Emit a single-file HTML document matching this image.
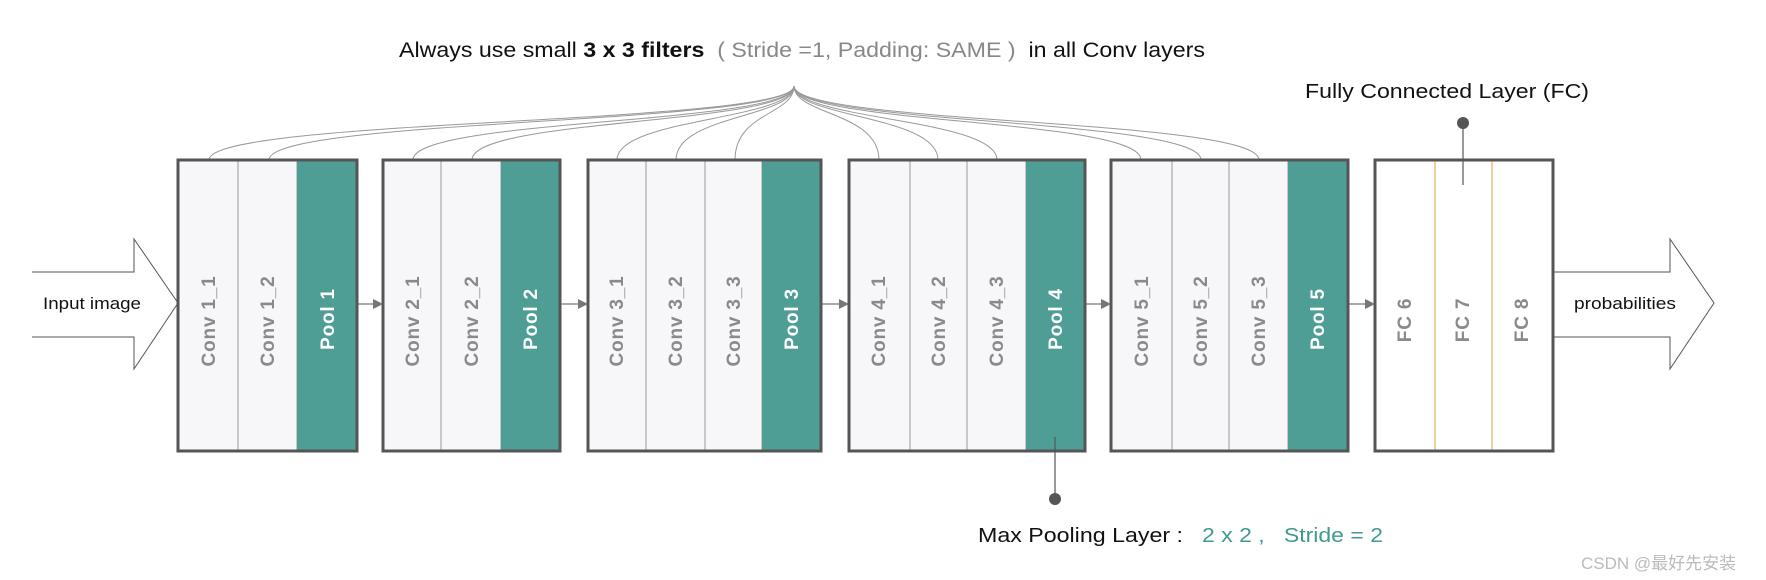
<!DOCTYPE html>
<html><head><meta charset="utf-8"><style>
html,body{margin:0;padding:0;background:#fff;}
svg{display:block;}
.t{font-family:"Liberation Sans","Noto Sans CJK SC",sans-serif;}
.lbl{font-family:"Liberation Sans",sans-serif;font-weight:bold;font-size:19px;letter-spacing:0.8px;fill:#8a8a8a;}
.pl{fill:#fff;}
</style></head><body>
<svg width="1766" height="580" viewBox="0 0 1766 580" xmlns="http://www.w3.org/2000/svg">
<defs><marker id="ah" markerWidth="10" markerHeight="10" refX="9" refY="5" orient="auto" markerUnits="userSpaceOnUse"><path d="M0,0 L10,5 L0,10 z" fill="#777"/></marker></defs>
<text class="t" x="399" y="57" font-size="21" fill="#111" textLength="806" lengthAdjust="spacingAndGlyphs">Always use small <tspan font-weight="bold">3 x 3 filters</tspan>&#160;&#160;<tspan fill="#888">( Stride =1, Padding: SAME )</tspan>&#160;&#160;in all Conv layers</text>
<g fill="none" stroke="#999" stroke-width="1">
<path d="M794,86 C794,125 209,118 209,160"/>
<path d="M794,86 C794,125 269,118 269,160"/>
<path d="M794,86 C794,125 413,118 413,160"/>
<path d="M794,86 C794,125 472,118 472,160"/>
<path d="M794,86 C794,120 617,118 617,160"/>
<path d="M794,86 C794,118 676,115 676,160"/>
<path d="M794,86 C794,115 735,112 735,160"/>
<path d="M794,86 C794,115 879,112 879,160"/>
<path d="M794,86 C794,118 938,115 938,160"/>
<path d="M794,86 C794,120 997,118 997,160"/>
<path d="M794,86 C794,125 1141,118 1141,160"/>
<path d="M794,86 C794,125 1201,118 1201,160"/>
<path d="M794,86 C794,125 1259,118 1259,160"/>
</g>
<path d="M32,272 L134,272 L134,239 L178,303 L134,369 L134,337 L32,337" fill="#fff" stroke="#555" stroke-width="1"/>
<text class="t" x="43" y="309" font-size="17" fill="#111" textLength="98" lengthAdjust="spacingAndGlyphs">Input image</text>
<path d="M1553,272 L1670,272 L1670,239 L1714,303 L1670,369 L1670,337 L1553,337" fill="#fff" stroke="#555" stroke-width="1"/>
<text class="t" x="1574" y="309" font-size="17" fill="#111" textLength="102" lengthAdjust="spacingAndGlyphs">probabilities</text>
<g stroke="#999" stroke-width="1">
<rect x="178" y="160" width="60" height="291" fill="#f7f7f9"/><rect x="238" y="160" width="59" height="291" fill="#f7f7f9"/><rect x="297" y="160" width="60" height="291" fill="#4e9e96" stroke="none"/>
<rect x="383" y="160" width="58" height="291" fill="#f7f7f9"/><rect x="441" y="160" width="60" height="291" fill="#f7f7f9"/><rect x="501" y="160" width="59" height="291" fill="#4e9e96" stroke="none"/>
<rect x="588" y="160" width="58" height="291" fill="#f7f7f9"/><rect x="646" y="160" width="59" height="291" fill="#f7f7f9"/><rect x="705" y="160" width="57" height="291" fill="#f7f7f9"/><rect x="762" y="160" width="59" height="291" fill="#4e9e96" stroke="none"/>
<rect x="849" y="160" width="61" height="291" fill="#f7f7f9"/><rect x="910" y="160" width="57" height="291" fill="#f7f7f9"/><rect x="967" y="160" width="59" height="291" fill="#f7f7f9"/><rect x="1026" y="160" width="59" height="291" fill="#4e9e96" stroke="none"/>
<rect x="1111" y="160" width="61" height="291" fill="#f7f7f9"/><rect x="1172" y="160" width="57" height="291" fill="#f7f7f9"/><rect x="1229" y="160" width="59" height="291" fill="#f7f7f9"/><rect x="1288" y="160" width="60" height="291" fill="#4e9e96" stroke="none"/>
<rect x="1375" y="160" width="178" height="291" fill="#fff" stroke="none"/>
</g>
<g stroke="#d9a640" stroke-width="1"><line x1="1435" y1="160" x2="1435" y2="451"/><line x1="1492" y1="160" x2="1492" y2="451"/></g>
<g fill="none" stroke="#555" stroke-width="3">
<rect x="178" y="160" width="179" height="291"/><rect x="383" y="160" width="177" height="291"/><rect x="588" y="160" width="233" height="291"/><rect x="849" y="160" width="236" height="291"/><rect x="1111" y="160" width="237" height="291"/><rect x="1375" y="160" width="178" height="291"/>
</g>
<g stroke="#777" stroke-width="1.2" marker-end="url(#ah)">
<line x1="358" y1="304" x2="382" y2="304"/><line x1="561" y1="304" x2="587" y2="304"/><line x1="822" y1="304" x2="848" y2="304"/><line x1="1086" y1="304" x2="1110" y2="304"/><line x1="1349" y1="304" x2="1374" y2="304"/>
</g>
<g text-anchor="middle">
<text class="lbl" transform="translate(215,321) rotate(-90)">Conv 1_1</text>
<text class="lbl" transform="translate(274,321) rotate(-90)">Conv 1_2</text>
<text class="lbl pl" transform="translate(334,319) rotate(-90)">Pool 1</text>
<text class="lbl" transform="translate(419,321) rotate(-90)">Conv 2_1</text>
<text class="lbl" transform="translate(478,321) rotate(-90)">Conv 2_2</text>
<text class="lbl pl" transform="translate(537,319) rotate(-90)">Pool 2</text>
<text class="lbl" transform="translate(623,321) rotate(-90)">Conv 3_1</text>
<text class="lbl" transform="translate(682,321) rotate(-90)">Conv 3_2</text>
<text class="lbl" transform="translate(740,321) rotate(-90)">Conv 3_3</text>
<text class="lbl pl" transform="translate(798,319) rotate(-90)">Pool 3</text>
<text class="lbl" transform="translate(885,321) rotate(-90)">Conv 4_1</text>
<text class="lbl" transform="translate(945,321) rotate(-90)">Conv 4_2</text>
<text class="lbl" transform="translate(1003,321) rotate(-90)">Conv 4_3</text>
<text class="lbl pl" transform="translate(1062,319) rotate(-90)">Pool 4</text>
<text class="lbl" transform="translate(1148,321) rotate(-90)">Conv 5_1</text>
<text class="lbl" transform="translate(1207,321) rotate(-90)">Conv 5_2</text>
<text class="lbl" transform="translate(1265,321) rotate(-90)">Conv 5_3</text>
<text class="lbl pl" transform="translate(1324,319) rotate(-90)">Pool 5</text>
<text class="lbl" transform="translate(1411,320) rotate(-90)">FC 6</text>
<text class="lbl" transform="translate(1469,320) rotate(-90)">FC 7</text>
<text class="lbl" transform="translate(1528,320) rotate(-90)">FC 8</text>
</g>
<text class="t" x="1305" y="98" font-size="20" fill="#111" textLength="284" lengthAdjust="spacingAndGlyphs">Fully Connected Layer (FC)</text>
<line x1="1463" y1="123" x2="1463" y2="185" stroke="#555" stroke-width="1.2"/>
<ellipse cx="1463" cy="123" rx="6" ry="6" fill="#555"/>
<line x1="1055" y1="437" x2="1055" y2="499" stroke="#555" stroke-width="1.2"/>
<ellipse cx="1055" cy="499" rx="6" ry="6" fill="#555"/>
<text class="t" x="978" y="542" font-size="20" fill="#111" textLength="205" lengthAdjust="spacingAndGlyphs">Max Pooling Layer :</text>
<text class="t" x="1202" y="542" font-size="20" fill="#3f9a8f" textLength="181" lengthAdjust="spacingAndGlyphs">2 x 2 ,&#160;&#160;&#160;Stride = 2</text>
<text class="t" x="1581" y="569" font-size="17" fill="#bbb">CSDN @最好先安装</text>
</svg>
</body></html>
